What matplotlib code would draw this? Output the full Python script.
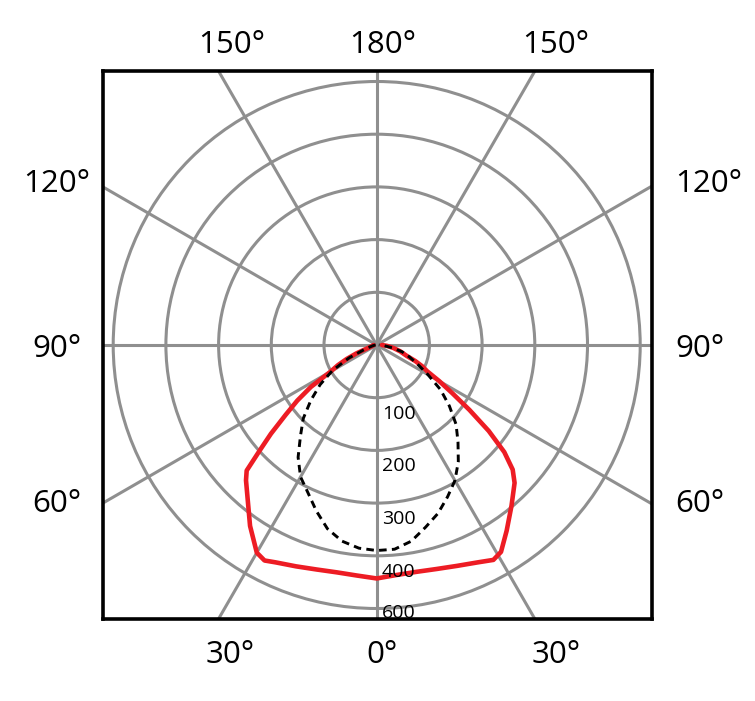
import numpy as np
import matplotlib
matplotlib.use("Agg")
import matplotlib.pyplot as plt
from matplotlib.patches import Circle

# ---------------- data (candela, angle from nadir; negative = left side) ----------------
red_angles = [-90, -85, -80, -75, -70, -67.5, -65, -62.5, -60, -57.5, -55, -52.5, -50,
              -48, -46, -44, -40, -35, -30, -27.5, -25, -20, -15, -10, -5,
              0, 5, 10, 15, 20, 25, 28.5, 31, 35, 40, 45, 47.5, 50, 52.5, 55,
              57.5, 60, 62.5, 65, 67.5, 70, 75, 80, 85, 90]
red_values = [6, 6, 8, 11, 21, 42, 63, 83, 101, 148, 184, 218, 262,
              298, 343, 357, 381, 419, 455, 461, 455, 447, 441, 438, 439,
              443, 438, 437, 440, 446, 455, 464, 458, 430, 398, 370, 350, 316, 268, 215,
              170, 137, 108, 95, 79, 61, 46, 32, 20, 10]

dash_angles = [-90, -85, -80, -75, -70, -65, -60, -55, -50, -45, -40, -35, -30, -25, -20,
               -15, -10, -5, 0, 5, 10, 15, 20, 25, 30, 35, 40, 45, 50, 55, 60, 65,
               70, 75, 80, 85, 90]
dash_values = [2, 4, 7, 12, 25, 58, 97, 131, 163, 197, 225, 260, 289, 309, 335,
               361, 378, 387, 390, 389, 378, 358, 340, 318, 297, 270, 240, 213, 180, 148, 112, 85,
               66, 50, 30, 14, 4]

ring_values = [100, 200, 300, 400, 500]
ring_labels = ["100", "200", "300", "400", "600"]
spoke_angles = list(range(0, 360, 30))

top_labels = ["150°", "180°", "150°"]
bottom_labels = ["30°", "0°", "30°"]
left_labels = ["120°", "90°", "60°"]
right_labels = ["120°", "90°", "60°"]

# ---------------- layout ----------------
W, H = 755, 701
CX, CY = 376.7, 345.0          # pixel position of the pole
PX_PER_CD = 0.527              # pixels per candela
L, R, T, B = 103.3, 652.3, 71.0, 619.3

GRAY = "#8f8f8f"
RED = "#ED1C24"
FONT = "Open Sans"

fig = plt.figure(figsize=(W / 100, H / 100), dpi=100)
ax = fig.add_axes([L / W, 1 - B / H, (R - L) / W, (B - T) / H])
ax.set_xlim((L - CX) / PX_PER_CD, (R - CX) / PX_PER_CD)
ax.set_ylim(-(B - CY) / PX_PER_CD, (CY - T) / PX_PER_CD)
ax.set_xticks([])
ax.set_yticks([])
for s in ax.spines.values():
    s.set_linewidth(2.6)
    s.set_color("black")
    s.set_zorder(10)

# rings
for r in ring_values:
    ax.add_patch(Circle((0, 0), r, fill=False, ec=GRAY, lw=2.2, zorder=1))

# spokes
for a in spoke_angles:
    t = np.deg2rad(a)
    ax.plot([0, 2000 * np.sin(t)], [0, -2000 * np.cos(t)], color=GRAY, lw=2.2,
            zorder=1, solid_capstyle="butt")

def to_xy(angles, values):
    t = np.deg2rad(np.asarray(angles, dtype=float))
    v = np.asarray(values, dtype=float)
    return v * np.sin(t), -v * np.cos(t)

x, y = to_xy(red_angles, red_values)
ax.plot(x, y, color=RED, lw=3.3, solid_joinstyle="round", solid_capstyle="round", zorder=3)

x, y = to_xy(dash_angles, dash_values)
ax.plot(x, y, color="black", lw=2.1, dashes=(2.6, 1.8), zorder=4)

# ring labels
ybot = ax.get_ylim()[0]
for r, lab in zip(ring_values, ring_labels):
    yy = max(-(r + 40), ybot + 2)
    ax.text(9.5, yy, lab, ha="left", va="baseline", fontsize=14,
            family=FONT, color="black", zorder=5)

# angle labels
def ftext(px, py, s, ha):
    fig.text(px / W, 1 - py / H, s, ha=ha, va="baseline", fontsize=22.5,
             family=FONT, color="black")

for s, px in zip(top_labels, [231.7, 382.5, 555.5]):
    ftext(px, 53.3, s, "center")
for s, px in zip(bottom_labels, [230.3, 381.7, 555.8]):
    ftext(px, 663.3, s, "center")
for s, py in zip(left_labels, [191.7, 356.7, 511.7]):
    ftext(57.0, py, s, "center")
for s, py in zip(right_labels, [191.7, 356.7, 511.7]):
    ftext(675.0, py, s, "left")

fig.savefig("out.png", dpi=100)
